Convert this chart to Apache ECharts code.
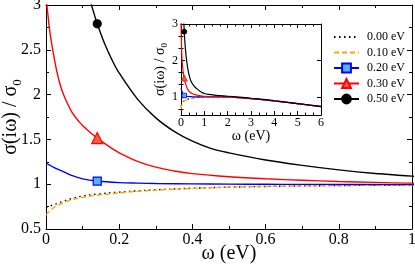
<!DOCTYPE html>
<html>
<head>
<meta charset="utf-8">
<script src="https://cdn.jsdelivr.net/npm/echarts@6/dist/echarts.min.js"></script>
<style>html,body{margin:0;padding:0;background:#fff}#c{width:415px;height:265px}</style>
</head>
<body>
<div id="c"></div>
<script>
// ---- data ----
var seriesNames = ['0.00 eV', '0.10 eV', '0.20 eV', '0.30 eV', '0.50 eV'];
var markerOmega = 0.14;

var omegaLow = [0, 0.01, 0.02, 0.03, 0.05, 0.07, 0.1, 0.14, 0.2, 0.25, 0.3, 0.4, 0.5, 0.6, 0.7, 0.8, 0.9, 1.0, 1.2, 1.5, 2, 2.5, 3, 3.5, 4, 4.5, 5, 5.5, 6];
var sigma000 = [0.74, 0.755, 0.77, 0.785, 0.815, 0.84, 0.868, 0.89, 0.912, 0.926, 0.938, 0.955, 0.967, 0.975, 0.981, 0.985, 0.988, 0.99, 0.993, 0.996, 0.993, 0.975, 0.95, 0.92, 0.885, 0.85, 0.81, 0.77, 0.73];
var sigma010 = [0.655, 0.7, 0.735, 0.76, 0.797, 0.826, 0.853, 0.877, 0.903, 0.92, 0.933, 0.953, 0.966, 0.975, 0.981, 0.985, 0.988, 0.99, 0.993, 0.996, 0.993, 0.975, 0.95, 0.92, 0.885, 0.85, 0.81, 0.77, 0.73];
var sigma020 = [1.235, 1.213, 1.19, 1.17, 1.135, 1.098, 1.06, 1.035, 1.018, 1.012, 1.008, 1.004, 1.001, 0.999, 0.998, 0.997, 0.996, 0.995, 0.995, 0.997, 0.994, 0.976, 0.95, 0.92, 0.885, 0.85, 0.81, 0.77, 0.73];

var omegaRed = [0, 0.005, 0.01, 0.015, 0.02, 0.03, 0.04, 0.05, 0.06, 0.07, 0.08, 0.09, 0.1, 0.12, 0.14, 0.16, 0.18, 0.2, 0.25, 0.3, 0.35, 0.4, 0.5, 0.6, 0.7, 0.8, 0.9, 1.0, 1.2, 1.5, 2, 2.5, 3, 3.5, 4, 4.5, 5, 5.5, 6];
var sigma030 = [3.1, 2.9, 2.72, 2.58, 2.46, 2.25, 2.09, 1.98, 1.89, 1.81, 1.75, 1.70, 1.655, 1.58, 1.515, 1.455, 1.40, 1.35, 1.255, 1.19, 1.148, 1.118, 1.083, 1.06, 1.044, 1.03, 1.02, 1.012, 1.008, 1.005, 0.998, 0.978, 0.952, 0.921, 0.886, 0.851, 0.811, 0.771, 0.731];

var omegaBlack = [0.12, 0.13, 0.14, 0.16, 0.18, 0.2, 0.25, 0.3, 0.35, 0.4, 0.45, 0.5, 0.6, 0.7, 0.8, 0.9, 1.0, 1.2, 1.5, 2, 2.5, 3, 3.5, 4, 4.5, 5, 5.5, 6];
var sigma050 = [3.06, 2.92, 2.79, 2.57, 2.39, 2.24, 1.95, 1.74, 1.59, 1.48, 1.40, 1.35, 1.27, 1.21, 1.16, 1.12, 1.09, 1.065, 1.04, 1.015, 0.99, 0.96, 0.93, 0.892, 0.855, 0.815, 0.775, 0.735];

var mainXTicks = [0, 0.2, 0.4, 0.6, 0.8, 1];
var mainYTicks = [0.5, 1, 1.5, 2, 2.5, 3];
var insetXTicks = [0, 1, 2, 3, 4, 5, 6];
var insetYLabels = [1, 2, 3];
var insetYMinor = [0.6667, 1.3333, 1.6667, 2.3333, 2.6667];

// ---- styling ----
var SERIF = 'Liberation Serif';
var styles = [
  {color: '#000000', dash: [1.5, 3.5], symbol: 'none'},
  {color: '#ffa500', dash: [5, 3], symbol: 'none'},
  {color: '#0000ff', dash: 'solid', symbol: 'rect', fill: '#4fb8dc', size: 8, sizeI: 4.5},
  {color: '#ff0000', dash: 'solid', symbol: 'triangle', fill: '#f4603c', size: 11, sizeI: 6},
  {color: '#000000', dash: 'solid', symbol: 'circle', fill: '#000000', size: 8, sizeI: 5}
];
var xs = [omegaLow, omegaLow, omegaLow, omegaRed, omegaBlack];
var ys = [sigma000, sigma010, sigma020, sigma030, sigma050];

function build(k, inset) {
  var st = styles[k];
  var data = xs[k].map(function (w, i) {
    return {value: [w, ys[k][i]], symbol: (w === markerOmega && st.symbol !== 'none') ? st.symbol : 'none'};
  });
  return {
    type: 'line',
    name: inset ? seriesNames[k] + ' inset' : seriesNames[k],
    xAxisIndex: inset ? 2 : 0,
    yAxisIndex: inset ? 2 : 0,
    data: data,
    smooth: 0.35,
    symbol: st.symbol,
    symbolSize: inset ? st.sizeI : st.size,
    showSymbol: true,
    clip: true,
    lineStyle: {color: st.color, width: inset ? 1.2 : 1.4, type: st.dash},
    itemStyle: {color: st.fill || st.color, borderColor: st.color, borderWidth: inset ? 0.8 : 1.2},
    emphasis: {disabled: true},
    z: 3 + k
  };
}

var series = [];
for (var k = 0; k < 5; k++) series.push(build(k, false));
for (var k2 = 0; k2 < 5; k2++) series.push(build(k2, true));

function axisCommon(extra) {
  var base = {
    type: 'value',
    nameMoveOverlap: false,
    axisLine: {show: true, onZero: false, lineStyle: {color: '#000', width: 1}},
    splitLine: {show: false},
    axisTick: {show: true, inside: true, length: 5, lineStyle: {color: '#000'}},
    minorTick: {show: true, splitNumber: 2, length: 3, lineStyle: {color: '#000'}},
    axisLabel: {show: false}
  };
  for (var key in extra) base[key] = extra[key];
  return base;
}

var chart = echarts.init(document.getElementById('c'), null, {renderer: 'canvas'});
chart.setOption({
  animation: false,
  backgroundColor: '#fff',
  grid: [
    {left: 46, top: 5, width: 366, height: 224, outerBoundsMode: 'none', containLabel: false},
    {left: 181, top: 24, width: 140, height: 91, outerBoundsMode: 'none', containLabel: false}
  ],
  xAxis: [
    axisCommon({gridIndex: 0, position: 'bottom', min: mainXTicks[0], max: mainXTicks[mainXTicks.length - 1], interval: 0.2,
      axisLabel: {show: true, fontFamily: SERIF, fontSize: 16, color: '#000', margin: 3},
      name: 'ω (eV)', nameLocation: 'middle', nameGap: 15,
      nameTextStyle: {fontFamily: SERIF, fontSize: 20, color: '#000'}}),
    axisCommon({gridIndex: 0, position: 'top', min: 0, max: 1, interval: 0.2}),
    axisCommon({gridIndex: 1, position: 'bottom', min: insetXTicks[0], max: insetXTicks[insetXTicks.length - 1], interval: 1,
      axisTick: {show: true, inside: true, length: 4, lineStyle: {color: '#000'}},
      minorTick: {show: true, splitNumber: 3, length: 2.5, lineStyle: {color: '#000'}},
      axisLabel: {show: true, fontFamily: SERIF, fontSize: 12, color: '#000', margin: 2},
      name: 'ω (eV)', nameLocation: 'middle', nameGap: 14,
      nameTextStyle: {fontFamily: SERIF, fontSize: 14, color: '#000'}}),
    axisCommon({gridIndex: 1, position: 'top', min: 0, max: 6, interval: 1,
      axisTick: {show: true, inside: true, length: 4, lineStyle: {color: '#000'}},
      minorTick: {show: true, splitNumber: 3, length: 2.5, lineStyle: {color: '#000'}}})
  ],
  yAxis: [
    axisCommon({gridIndex: 0, position: 'left', min: mainYTicks[0], max: mainYTicks[mainYTicks.length - 1], interval: 0.5,
      axisLabel: {show: true, fontFamily: SERIF, fontSize: 16, color: '#000', margin: 5},
      name: '{a|σ(iω) / σ}{b|0}', nameLocation: 'middle', nameRotate: 90, nameGap: 22,
      nameTextStyle: {fontFamily: SERIF, fontSize: 20, color: '#000',
        rich: {a: {fontFamily: SERIF, fontSize: 20, color: '#000', verticalAlign: 'top', padding: [0, 0, 3, 0]},
               b: {fontFamily: SERIF, fontSize: 13, color: '#000', verticalAlign: 'bottom'}}}}),
    axisCommon({gridIndex: 0, position: 'right', min: 0.5, max: 3, interval: 0.5}),
    axisCommon({gridIndex: 1, position: 'left', min: 0.5, max: 3,
      axisTick: {show: true, inside: true, length: 4, customValues: insetYLabels, lineStyle: {color: '#000'}},
      minorTick: {show: false},
      axisLabel: {show: true, fontFamily: SERIF, fontSize: 12, color: '#000', margin: 3, customValues: insetYLabels},
      name: '{a|σ(iω) / σ}{b|0}', nameLocation: 'middle', nameRotate: 90, nameGap: 12,
      nameTextStyle: {fontFamily: SERIF, fontSize: 14, color: '#000',
        rich: {a: {fontFamily: SERIF, fontSize: 14, color: '#000', verticalAlign: 'top', padding: [0, 0, 2, 0]},
               b: {fontFamily: SERIF, fontSize: 9, color: '#000', verticalAlign: 'bottom'}}}}),
    axisCommon({gridIndex: 1, position: 'right', min: 0.5, max: 3,
      axisTick: {show: true, inside: true, length: 4, customValues: insetYLabels, lineStyle: {color: '#000'}},
      minorTick: {show: false}}),
    axisCommon({gridIndex: 1, position: 'left', min: 0.5, max: 3, axisLine: {show: false},
      axisTick: {show: true, inside: true, length: 2.5, customValues: insetYMinor, lineStyle: {color: '#000'}},
      minorTick: {show: false}}),
    axisCommon({gridIndex: 1, position: 'right', min: 0.5, max: 3, axisLine: {show: false},
      axisTick: {show: true, inside: true, length: 2.5, customValues: insetYMinor, lineStyle: {color: '#000'}},
      minorTick: {show: false}})
  ],
  legend: {
    data: [
      {name: seriesNames[0], itemStyle: {color: 'rgba(0,0,0,0)', borderWidth: 0}},
      {name: seriesNames[1], itemStyle: {color: 'rgba(0,0,0,0)', borderWidth: 0}},
      seriesNames[2], seriesNames[3], seriesNames[4]
    ],
    orient: 'vertical', left: 333, top: 31, padding: 0,
    itemWidth: 25, itemHeight: 11, itemGap: 3.5,
    selectedMode: false,
    textStyle: {fontFamily: SERIF, fontSize: 12, color: '#000', padding: [0, 0, 0, 3]}
  },
  series: series
});
</script>
</body>
</html>
